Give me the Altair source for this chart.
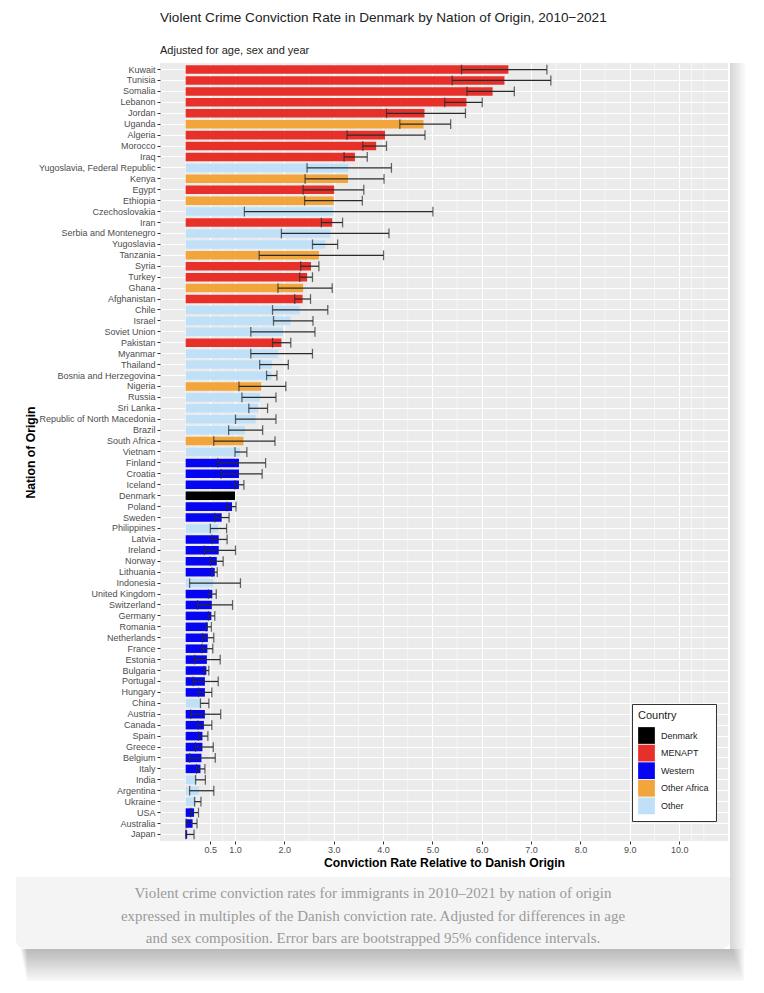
import altair as alt
import pandas as pd

countries = [
    "Kuwait", "Tunisia", "Somalia", "Lebanon", "Jordan", "Uganda", "Algeria", "Morocco", "Iraq",
    "Yugoslavia, Federal Republic", "Kenya", "Egypt", "Ethiopia", "Czechoslovakia", "Iran",
    "Serbia and Montenegro", "Yugoslavia", "Tanzania", "Syria", "Turkey", "Ghana", "Afghanistan",
    "Chile", "Israel", "Soviet Union", "Pakistan", "Myanmar", "Thailand", "Bosnia and Herzegovina",
    "Nigeria", "Russia", "Sri Lanka", "Republic of North Macedonia", "Brazil", "South Africa",
    "Vietnam", "Finland", "Croatia", "Iceland", "Denmark", "Poland", "Sweden", "Philippines",
    "Latvia", "Ireland", "Norway", "Lithuania", "Indonesia", "United Kingdom", "Switzerland",
    "Germany", "Romania", "Netherlands", "France", "Estonia", "Bulgaria", "Portugal", "Hungary",
    "China", "Austria", "Canada", "Spain", "Greece", "Belgium", "Italy", "India", "Argentina",
    "Ukraine", "USA", "Australia", "Japan",
]
regions = [
    "MENAPT", "MENAPT", "MENAPT", "MENAPT", "MENAPT", "Other Africa", "MENAPT", "MENAPT", "MENAPT",
    "Other", "Other Africa", "MENAPT", "Other Africa", "Other", "MENAPT",
    "Other", "Other", "Other Africa", "MENAPT", "MENAPT", "Other Africa", "MENAPT",
    "Other", "Other", "Other", "MENAPT", "Other", "Other", "Other",
    "Other Africa", "Other", "Other", "Other", "Other", "Other Africa",
    "Other", "Western", "Western", "Western", "Denmark", "Western", "Western", "Other",
    "Western", "Western", "Western", "Western", "Other", "Western", "Western",
    "Western", "Western", "Western", "Western", "Western", "Western", "Western", "Western",
    "Other", "Western", "Western", "Western", "Western", "Western", "Western", "Other", "Other",
    "Other", "Western", "Western", "Western",
]
rates = [
    6.54, 6.46, 6.22, 5.69, 4.84, 4.82, 4.04, 3.86, 3.43,
    3.30, 3.29, 3.01, 3.00, 2.99, 2.97,
    2.93, 2.83, 2.70, 2.54, 2.46, 2.38, 2.37,
    2.31, 2.13, 1.97, 1.94, 1.88, 1.75, 1.74,
    1.53, 1.51, 1.47, 1.42, 1.20, 1.17,
    1.10, 1.08, 1.08, 1.08, 1.00, 0.94, 0.73, 0.66,
    0.67, 0.67, 0.63, 0.59, 0.56, 0.54, 0.53,
    0.52, 0.45, 0.45, 0.44, 0.43, 0.42, 0.39, 0.39,
    0.31, 0.39, 0.37, 0.34, 0.34, 0.32, 0.30, 0.23, 0.27,
    0.21, 0.17, 0.14, 0.03,
]
ci_low = [
    5.59, 5.40, 5.70, 5.25, 4.07, 4.34, 3.27, 3.59, 3.21,
    2.46, 2.42, 2.38, 2.41, 1.19, 2.75,
    1.94, 2.57, 1.49, 2.33, 2.31, 1.87, 2.21,
    1.76, 1.78, 1.32, 1.76, 1.32, 1.50, 1.64,
    1.08, 1.14, 1.28, 1.01, 0.87, 0.57,
    1.00, 0.65, 0.72, 1.00, None, 0.84, 0.59, 0.50,
    0.53, 0.38, 0.50, 0.53, 0.08, 0.46, 0.24,
    0.46, 0.42, 0.34, 0.33, 0.18, 0.37, 0.15, 0.26,
    0.30, 0.10, 0.25, 0.26, 0.20, 0.08, 0.22, 0.20, 0.08,
    0.18, 0.10, 0.01, 0.00,
]
ci_high = [
    7.32, 7.40, 6.66, 6.01, 5.67, 5.37, 4.85, 4.07, 3.68,
    4.17, 4.02, 3.61, 3.58, 5.01, 3.18,
    4.12, 3.08, 4.01, 2.70, 2.57, 2.97, 2.53,
    2.88, 2.58, 2.62, 2.13, 2.57, 2.08, 1.85,
    2.03, 1.83, 1.66, 1.83, 1.56, 1.81,
    1.24, 1.62, 1.55, 1.18, None, 1.02, 0.88, 0.83,
    0.84, 1.01, 0.76, 0.64, 1.11, 0.62, 0.95,
    0.59, 0.52, 0.57, 0.55, 0.70, 0.47, 0.66, 0.53,
    0.47, 0.71, 0.53, 0.45, 0.56, 0.60, 0.39, 0.40, 0.57,
    0.31, 0.26, 0.23, 0.17,
]

x_ticks = [0.5, 1, 2, 3, 4, 5, 6, 7, 8, 9, 10]
x_minor = [0, 0.25, 0.75, 1.5, 2.5, 3.5, 4.5, 5.5, 6.5, 7.5, 8.5, 9.5, 10.25, 10.5]
legend_order = ["Denmark", "MENAPT", "Western", "Other Africa", "Other"]
legend_colors = ["#000000", "#E8302A", "#0505F2", "#F2A53B", "#C0E0F8"]

title_text = "Violent Crime Conviction Rate in Denmark by Nation of Origin, 2010\u22122021"
subtitle_text = "Adjusted for age, sex and year"
x_title = "Conviction Rate Relative to Danish Origin"
y_title = "Nation of Origin"
caption_lines = [
    "Violent crime conviction rates for immigrants in 2010\u20132021 by nation of origin",
    "expressed in multiples of the Danish conviction rate. Adjusted for differences in age",
    "and sex composition. Error bars are bootstrapped 95% confidence intervals.",
]

W, H = 568, 778

df = pd.DataFrame({"country": countries, "region": regions, "rate": rates,
                   "lo": ci_low, "hi": ci_high})

xscale = alt.Scale(domain=[-0.52, 10.99], nice=False, zero=False)
yscale = alt.Scale(paddingInner=0.22, paddingOuter=0.21)

x_axis = alt.Axis(values=x_ticks, format=".1f", grid=True, gridColor="white", gridWidth=1.1,
                  domain=False, tickColor="#333333", tickSize=3, tickWidth=1,
                  labelColor="#4d4d4d", labelFontSize=9, labelPadding=1,
                  titleFontSize=12.2, titleFontWeight="bold", titleColor="#000000", titlePadding=2)
y_axis = alt.Axis(grid=True, gridColor="white", gridWidth=1.1, bandPosition=0.5,
                  domain=False, tickColor="#333333", tickSize=3, tickWidth=1,
                  labelColor="#4d4d4d", labelFontSize=9, labelPadding=2,
                  titleFontSize=12.2, titleFontWeight="bold", titleColor="#000000",
                  titleX=-130, titleBaseline="middle")

base = alt.Chart(df)

minor = alt.Chart(pd.DataFrame({"v": x_minor})).mark_rule(color="white", strokeWidth=0.55).encode(
    x=alt.X("v:Q", scale=xscale, title=x_title)
)

bars = base.mark_bar().encode(
    x=alt.X("rate:Q", scale=xscale, axis=x_axis, title=x_title),
    x2=alt.datum(0),
    y=alt.Y("country:N", sort=countries, scale=yscale, axis=y_axis, title=y_title),
    color=alt.Color("region:N", scale=alt.Scale(domain=legend_order, range=legend_colors),
                    legend=alt.Legend(title="Country", orient="none", legendX=472, legendY=641,
                                      fillColor="white", strokeColor="#333333", padding=6,
                                      symbolType="square", symbolSize=280, symbolStrokeWidth=0,
                                      symbolOpacity=1, labelFontSize=9, labelColor="#222222",
                                      titleFontSize=11, titleFontWeight="normal",
                                      titleColor="#222222", titlePadding=6, rowPadding=0.6,
                                      labelOffset=6)),
)

err = base.transform_filter("isValid(datum.lo)").mark_rule(color="#2a2a2a", strokeWidth=1.25).encode(
    x=alt.X("lo:Q", scale=xscale, title=x_title),
    x2="hi:Q",
    y=alt.Y("country:N", sort=countries, title=y_title),
)

caps = base.transform_filter("isValid(datum.lo)").transform_fold(
    ["lo", "hi"], as_=["end", "val"]
).mark_tick(color="#2a2a2a", thickness=1.25, size=9.8).encode(
    x=alt.X("val:Q", scale=xscale, title=x_title),
    y=alt.Y("country:N", sort=countries, title=y_title),
)

one = pd.DataFrame({"k": [0]})
deco = []
# soft drop shadow of the card (bottom and right), kept below the plot top
for k in range(1, 15):
    deco.append(alt.Chart(one).mark_rect(color="#000000", opacity=0.02).encode(
        x=alt.value(-140 + k * 0.5), x2=alt.value(572 + k * 0.9),
        y=alt.value(886), y2=alt.value(886 + 2.4 * k)))
for k in range(1, 11):
    deco.append(alt.Chart(one).mark_rect(color="#000000", opacity=0.015).encode(
        x=alt.value(570), x2=alt.value(570 + 1.6 * k), y=alt.value(0), y2=alt.value(886)))

caption_bg = alt.Chart(one).mark_rect(color="#f4f4f4", cornerRadiusBottomLeft=9,
                                      cornerRadiusBottomRight=9).encode(
    x=alt.value(-144), x2=alt.value(570), y=alt.value(814), y2=alt.value(886))

caption = alt.Chart(one).mark_text(font="Liberation Serif", fontSize=15, color="#9a9a9a",
                                   align="center", baseline="top", lineBreak="\n",
                                   lineHeight=22.5).encode(
    x=alt.value(213), y=alt.value(823), text=alt.value("\n".join(caption_lines)))

chart = alt.layer(minor, bars, err, caps, *deco, caption_bg, caption).properties(
    width=W, height=H,
    title=alt.TitleParams(text=title_text, subtitle=subtitle_text, anchor="start", frame="group",
                          fontSize=13.6, fontWeight="normal", color="#222222",
                          subtitleFontSize=11, subtitleColor="#222222",
                          subtitlePadding=20, offset=7, font="Liberation Sans",
                          subtitleFont="Liberation Sans"),
    padding={"left": 152, "top": 55, "right": 28, "bottom": 140},
    autosize=alt.AutoSizeParams(type="none"),
).configure(
    font="Liberation Sans", background="white"
).configure_view(
    fill="#ebebeb", stroke=None
)

chart.save("out.html", embed_options={"renderer": "svg", "actions": False})
